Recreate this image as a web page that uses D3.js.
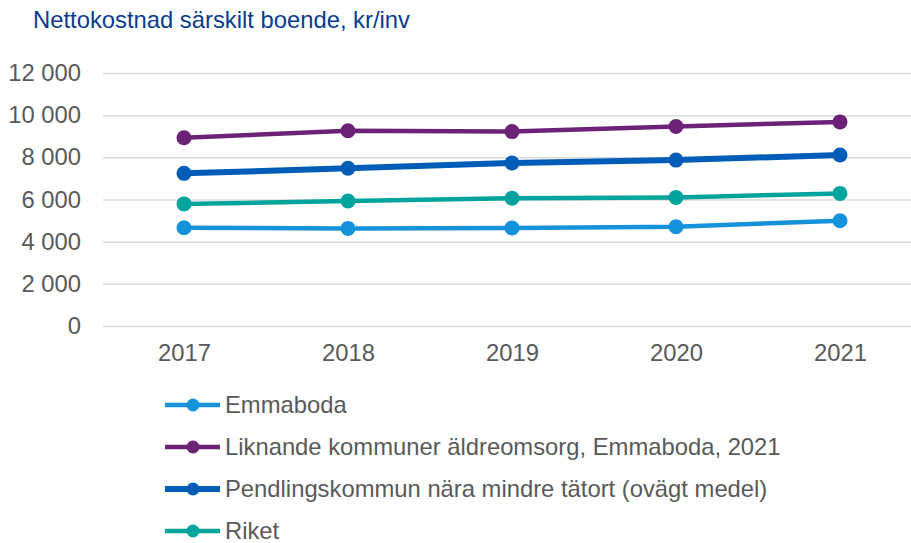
<!DOCTYPE html>
<html><head><meta charset="utf-8">
<script src="https://cdn.jsdelivr.net/npm/d3@7"></script>
<style>body{margin:0;background:#fff;}svg{display:block;font-family:"Liberation Sans",Arial,sans-serif;}</style>
</head><body>
<svg id="c" width="911" height="543"></svg>
<script>
const years = ["2017","2018","2019","2020","2021"];
const seriesNames = ["Emmaboda","Liknande kommuner äldreomsorg, Emmaboda, 2021","Pendlingskommun nära mindre tätort (ovägt medel)","Riket"];
const emmaboda = [4660, 4630, 4650, 4710, 4990];
const liknande = [8930, 9260, 9220, 9460, 9680];
const pendling = [7240, 7480, 7730, 7870, 8110];
const riket = [5790, 5930, 6060, 6100, 6290];
const yTicks = [0, 2000, 4000, 6000, 8000, 10000, 12000];
const colors = ["#1592DB","#6C2277","#005DB7","#00A49D"];
const widths = [4.5, 4.5, 6, 4.5];

const svg = d3.select("#c");
const x = d3.scalePoint().domain(years).range([184, 840]);
const y = d3.scaleLinear().domain([0, 12000]).range([326, 73]);
const fmt = v => d3.format(",")(v).replace(/,/g, " ");
const FS = "23.8px";

svg.append("text").attr("x", 33).attr("y", 28).attr("fill", "#0A3B8F")
  .style("font-size", FS).text("Nettokostnad särskilt boende, kr/inv");

const yAxis = svg.append("g").attr("transform", "translate(103,0)")
  .call(d3.axisLeft(y).tickValues(yTicks).tickSize(-820).tickFormat(fmt).tickPadding(22));
yAxis.select(".domain").remove();
yAxis.selectAll("line").attr("stroke", "#D9D9D9").attr("stroke-width", 1.5);
yAxis.selectAll("text").attr("fill", "#595959").style("font-size", FS).style("font-family", "Liberation Sans, Arial, sans-serif");

const xAxis = svg.append("g").attr("transform", "translate(0,326)")
  .call(d3.axisBottom(x).tickSize(0).tickPadding(18));
xAxis.select(".domain").remove();
xAxis.selectAll("text").attr("fill", "#595959").style("font-size", FS).style("font-family", "Liberation Sans, Arial, sans-serif");

const data = [emmaboda, liknande, pendling, riket];
const line = d3.line().x((d, i) => x(years[i])).y(d => y(d));
const order = [0, 3, 2, 1];
order.forEach(k => {
  const g = svg.append("g");
  g.append("path").datum(data[k]).attr("d", line).attr("fill", "none")
    .attr("stroke", colors[k]).attr("stroke-width", widths[k]);
  g.selectAll("circle").data(data[k]).join("circle")
    .attr("cx", (d, i) => x(years[i])).attr("cy", d => y(d)).attr("r", 7.5).attr("fill", colors[k]);
});

const leg = svg.append("g");
seriesNames.forEach((n, k) => {
  const cy = 405 + k * 42;
  leg.append("line").attr("x1", 165).attr("x2", 220).attr("y1", cy).attr("y2", cy)
    .attr("stroke", colors[k]).attr("stroke-width", widths[k]);
  leg.append("circle").attr("cx", 193).attr("cy", cy).attr("r", 6.5).attr("fill", colors[k]);
  leg.append("text").attr("x", 225).attr("y", cy).attr("dy", "0.35em").attr("fill", "#595959")
    .style("font-size", FS).text(n);
});
</script>
</body></html>
